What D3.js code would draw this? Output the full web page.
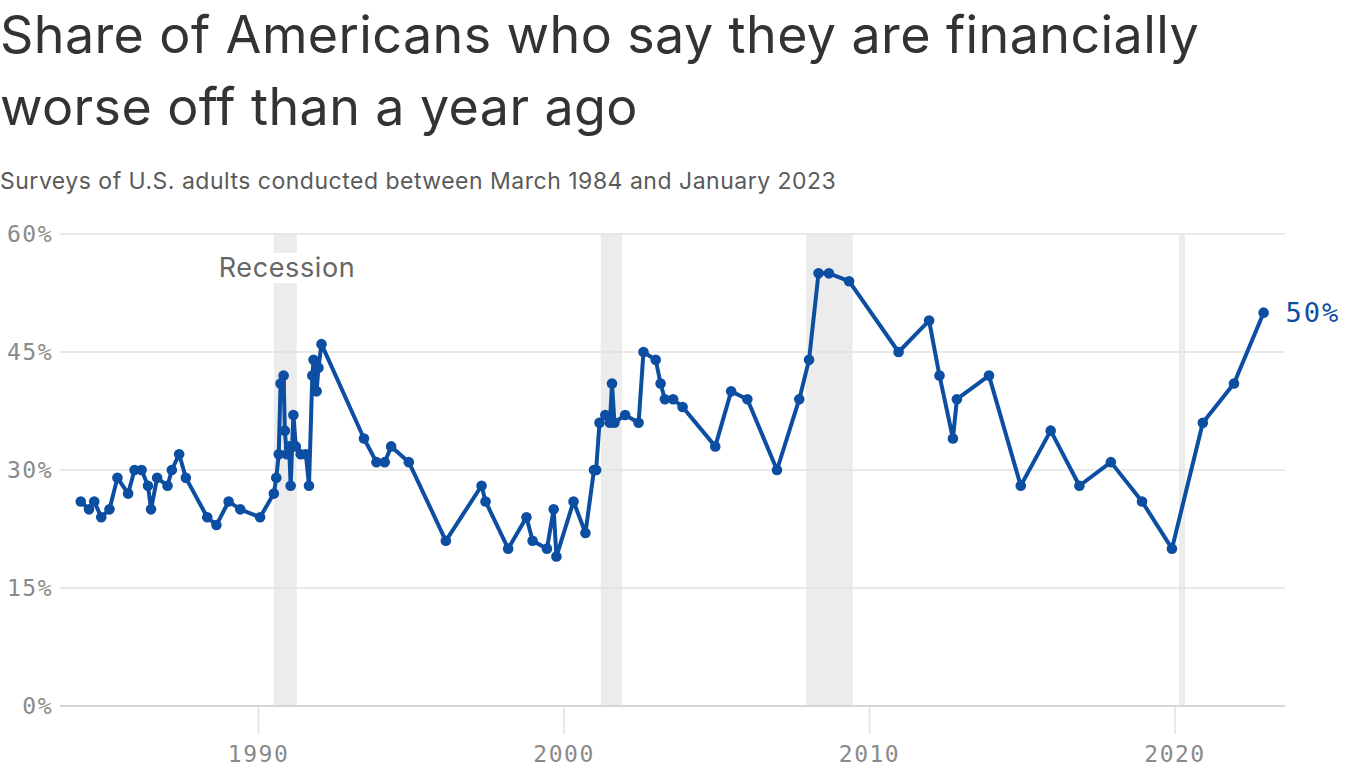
<!DOCTYPE html>
<html>
<head>
<meta charset="utf-8">
<script src="https://cdn.jsdelivr.net/npm/d3@7"></script>
<style>
  body { margin: 0; background: #fff; }
  #chart { width: 1366px; height: 768px; }
  .title { font-family: Inter, "Noto Sans", sans-serif; font-size: 52px; fill: #333; letter-spacing: 0.4px; }
  .subtitle { font-family: Inter, "Noto Sans", sans-serif; font-size: 23px; fill: #5a5a5a; letter-spacing: 0.5px; }
  .tick-label { font-family: "DejaVu Sans Mono", monospace; font-size: 23px; fill: #8a8a8a; letter-spacing: 1.5px; }
</style>
</head>
<body>
<div id="chart"></div>
<script>
// survey dates (decimal year) and share who say worse off (%)
var years = [1984.18, 1984.45, 1984.62, 1984.85, 1985.12, 1985.38, 1985.73, 1985.94, 1986.17, 1986.38, 1986.48, 1986.68, 1987.02, 1987.16, 1987.4, 1987.62,
  1988.32, 1988.62, 1989.02, 1989.4, 1990.05, 1990.5, 1990.58, 1990.66, 1990.72, 1990.82, 1990.86, 1990.92, 1991.0, 1991.05, 1991.14, 1991.22, 1991.38, 1991.55, 1991.65, 1991.76, 1991.8, 1991.9, 1991.96, 1992.06,
  1993.45, 1993.86, 1994.13, 1994.34, 1994.92, 1996.13, 1997.3, 1997.43, 1998.17, 1998.77, 1998.97, 1999.44, 1999.66, 1999.75, 2000.31, 2000.7, 2000.98, 2001.05,
  2001.16, 2001.35, 2001.5, 2001.57, 2001.65, 2002.0, 2002.44, 2002.6, 2003.0, 2003.16, 2003.3, 2003.57, 2003.88, 2004.95, 2005.47, 2006.0, 2006.97,
  2007.7, 2008.02, 2008.33, 2008.67, 2009.33, 2010.95, 2011.95, 2012.29, 2012.73, 2012.86, 2013.91, 2014.95, 2015.93, 2016.87, 2017.9, 2018.92, 2019.9,
  2020.91, 2021.93, 2022.9];
var shares = [26, 25, 26, 24, 25, 29, 27, 30, 30, 28, 25, 29, 28, 30, 32, 29,
  24, 23, 26, 25, 24, 27, 29, 32, 41, 42, 35, 32, 33, 28, 37, 33, 32, 32, 28, 42, 44, 40, 43, 46,
  34, 31, 31, 33, 31, 21, 28, 26, 20, 24, 21, 20, 25, 19, 26, 22, 30, 30,
  36, 37, 36, 41, 36, 37, 36, 45, 44, 41, 39, 39, 38, 33, 40, 39, 30,
  39, 44, 55, 55, 54, 45, 49, 42, 34, 39, 42, 28, 35, 28, 31, 26, 20,
  36, 41, 50];

var recessionStart = [1990.5, 2001.2, 2007.92, 2020.13];
var recessionEnd = [1991.25, 2001.9, 2009.45, 2020.33];

var yTicks = [0, 15, 30, 45, 60];
var xTicks = [1990, 2000, 2010, 2020];

var data = years.map(function(d, i) { return {year: d, share: shares[i]}; });

var width = 1366, height = 768;
var svg = d3.select("#chart")
  .append("svg")
    .attr("width", width)
    .attr("height", height);

// titles
svg.append("text").attr("class", "title").attr("x", 0).attr("y", 53)
  .text("Share of Americans who say they are financially");
svg.append("text").attr("class", "title").attr("x", 0).attr("y", 125)
  .text("worse off than a year ago");
svg.append("text").attr("class", "subtitle").attr("x", 0).attr("y", 189)
  .text("Surveys of U.S. adults conducted between March 1984 and January 2023");

var x = d3.scaleLinear()
  .domain([1983.5, 2023.6])
  .range([60, 1285]);

var y = d3.scaleLinear()
  .domain([0, 60])
  .range([706, 234]);

// recession bands
svg.append("g")
  .selectAll("rect")
  .data(recessionStart)
  .enter()
  .append("rect")
    .attr("x", function(d) { return x(d); })
    .attr("width", function(d, i) { return x(recessionEnd[i]) - x(d); })
    .attr("y", y(60))
    .attr("height", y(0) - y(60))
    .attr("fill", "#ececec");

// gridlines
svg.append("g")
  .selectAll("line")
  .data(yTicks)
  .enter()
  .append("line")
    .attr("x1", 60)
    .attr("x2", 1285)
    .attr("y1", function(d) { return y(d); })
    .attr("y2", function(d) { return y(d); })
    .attr("stroke", function(d) { return d === 0 ? "#d6d6d6" : "#e2e2e2"; })
    .attr("stroke-width", function(d) { return d === 0 ? 2 : 1.5; });

svg.append("g")
  .selectAll("text")
  .data(yTicks)
  .enter()
  .append("text")
    .attr("class", "tick-label")
    .attr("x", 53)
    .attr("y", function(d) { return y(d); })
    .attr("dy", "0.35em")
    .attr("text-anchor", "end")
    .text(function(d) { return d + "%"; });

// x ticks
var xAxis = svg.append("g");
xAxis.selectAll("line")
  .data(xTicks)
  .enter()
  .append("line")
    .attr("x1", function(d) { return x(d); })
    .attr("x2", function(d) { return x(d); })
    .attr("y1", 707)
    .attr("y2", 734)
    .attr("stroke", "#e2e2e2")
    .attr("stroke-width", 1.5);
xAxis.selectAll("text")
  .data(xTicks)
  .enter()
  .append("text")
    .attr("class", "tick-label")
    .attr("x", function(d) { return x(d); })
    .attr("y", 762)
    .attr("text-anchor", "middle")
    .text(function(d) { return d; });

// recession label
var lbl = svg.append("g");
lbl.append("rect")
  .attr("x", 214)
  .attr("y", 253)
  .attr("width", 148)
  .attr("height", 30)
  .attr("fill", "#fff");
lbl.append("text")
  .attr("x", 287)
  .attr("y", 277)
  .attr("text-anchor", "middle")
  .attr("font-family", "Inter, 'Noto Sans', sans-serif")
  .attr("font-size", "27px")
  .attr("letter-spacing", "0.6px")
  .attr("fill", "#666")
  .text("Recession");

var line = d3.line()
  .x(function(d) { return x(d.year); })
  .y(function(d) { return y(d.share); });

svg.append("path")
  .datum(data)
  .attr("d", line)
  .attr("fill", "none")
  .attr("stroke", "#0b4ea2")
  .attr("stroke-width", 4)
  .attr("stroke-linejoin", "round");

svg.append("g")
  .selectAll("circle")
  .data(data)
  .enter()
  .append("circle")
    .attr("cx", function(d) { return x(d.year); })
    .attr("cy", function(d) { return y(d.share); })
    .attr("r", 5.3)
    .attr("fill", "#0b4ea2");

var last = data[data.length - 1];
svg.append("text")
  .attr("x", x(last.year) + 22)
  .attr("y", y(last.share))
  .attr("dy", "0.35em")
  .attr("font-family", "'DejaVu Sans Mono', monospace")
  .attr("font-size", "27px")
  .attr("letter-spacing", "2px")
  .attr("fill", "#0b4ea2")
  .text(last.share + "%");
</script>
</body>
</html>
